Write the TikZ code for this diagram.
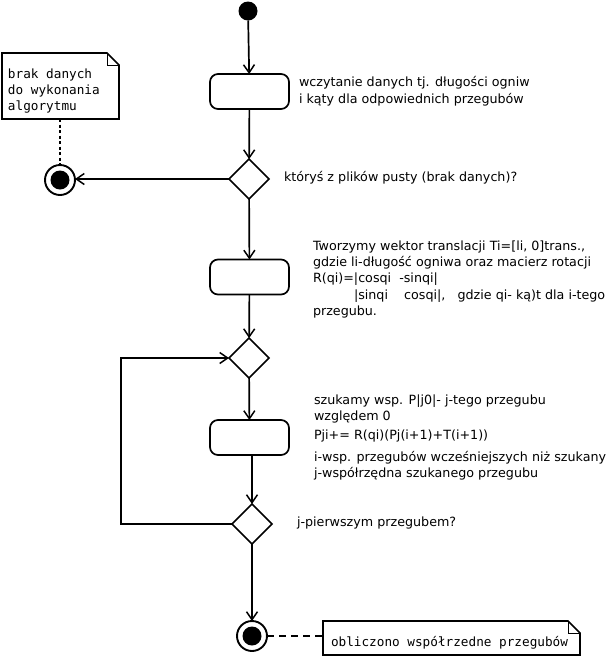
\documentclass[tikz,border=0pt]{standalone}
\usepackage{fontspec}
\setmainfont{DejaVu Sans}
\newfontfamily\notefont{DejaVu Sans Mono}
\usetikzlibrary{shapes.geometric,arrows.meta}
\begin{document}
\begin{tikzpicture}[x=1pt,y=-1pt,
  every node/.style={inner sep=0pt,outer sep=0pt},
  line/.style={line width=1.7pt},
  arr/.style={line width=1.7pt,-{Straight Barb[length=8pt,width=11pt,line width=1.5pt]}},
  actbox/.style={draw,line width=1.7pt,rounded corners=8pt,minimum width=79pt,minimum height=35pt},
  decision/.style={draw,diamond,line width=1.7pt,aspect=1,minimum width=40pt,minimum height=40pt},
  startnode/.style={circle,fill=black,minimum size=19pt},
  endnode/.style={circle,draw,line width=1.9pt,minimum size=30pt,
     path picture={\fill[black] (path picture bounding box.center) circle (9.5pt);}},
  notebox/.style={anchor=north west},
  notetext/.style={anchor=base west,font=\notefont\fontsize{12.7}{16.5}\selectfont},
  lbl/.style={anchor=base west,font=\fontsize{12.7}{14}\selectfont},
]
\useasboundingbox (0,0) rectangle (610,657);

% nodes
\node[startnode] (start) at (248,11) {};
\node[actbox] (b1) at (249.5,91.5) {};
\node[decision] (d1) at (249,179) {};
\node[endnode] (e1) at (60,180) {};
\node[actbox] (b2) at (249.5,277) {};
\node[decision] (d2) at (249,358) {};
\node[actbox] (b3) at (249.5,437.5) {};
\node[decision] (d3) at (252,524) {};
\node[endnode] (e2) at (252,636) {};
\coordinate (lp) at (121,524);

% notes
\node[notebox,minimum width=117pt,minimum height=66pt] (n1) at (2,53) {};
\draw[line] (n1.north west) -- ([xshift=-12pt]n1.north east) -- ([yshift=-12pt]n1.north east) -- (n1.south east) -- (n1.south west) -- cycle;
\draw[line width=0.8pt] ([xshift=-12pt]n1.north east) -- ([xshift=-12pt,yshift=-12pt]n1.north east) -- ([yshift=-12pt]n1.north east);
\node[notetext] (n1a) at (8,78) {brak danych};
\node[notetext] (n1b) at (8,94.3) {do wykonania};
\node[notetext] (n1c) at (8,110.6) {algorytmu};

\node[notebox,minimum width=257pt,minimum height=34pt] (n2) at (323,621) {};
\draw[line] (n2.north west) -- ([xshift=-12pt]n2.north east) -- ([yshift=-12pt]n2.north east) -- (n2.south east) -- (n2.south west) -- cycle;
\draw[line width=0.8pt] ([xshift=-12pt]n2.north east) -- ([xshift=-12pt,yshift=-12pt]n2.north east) -- ([yshift=-12pt]n2.north east);
\node[notetext] (n2a) at (331,646) {obliczono współrzedne przegubów};

% labels
\node[lbl] (t1a) at (299,86) {wczytanie danych tj. długości ogniw};
\node[lbl] (t1b) at (299,103) {i kąty dla odpowiednich przegubów};
\node[lbl] (t2) at (284,181) {któryś z plików pusty (brak danych)?};
\node[lbl] (t3a) at (313,250) {Tworzymy wektor translacji Ti=[li, 0]trans.,};
\node[lbl] (t3b) at (313,266) {gdzie li-długość ogniwa oraz macierz rotacji};
\node[lbl] (t3c) at (313,282) {R(qi)=|cosqi\ \ -sinqi|};
\node[lbl] (t3d) at (354,299) {|sinqi\ \ \ \ cosqi|,\ \ \ gdzie qi- ką)t dla i-tego};
\node[lbl] (t3e) at (313,315) {przegubu.};
\node[lbl] (t4a) at (314,404) {szukamy wsp. P|j0|- j-tego przegubu};
\node[lbl] (t4b) at (314,420) {względem 0};
\node[lbl] (t4c) at (314,439) {Pji+= R(qi)(Pj(i+1)+T(i+1))};
\node[lbl] (t4d) at (314,461) {i-wsp. przegubów wcześniejszych niż szukany};
\node[lbl] (t4e) at (314,477) {j-współrzędna szukanego przegubu};
\node[lbl] (t5) at (297,526) {j-pierwszym przegubem?};

% connectors
\draw[arr] (start) -- (b1);
\draw[arr] (b1) -- (d1);
\draw[arr] (d1.west) -- (e1.east |- d1.west);
\draw[line,dash pattern=on 3pt off 2.5pt] (n1.south -| e1) -- (e1);
\draw[arr] (d1) -- (b2);
\draw[arr] (b2) -- (d2);
\draw[arr] (d2) -- (b3);
\draw[arr] (b3.south -| d3) -- (d3.north);
\draw[arr] (d3.west) -- (lp) |- (d2.west);
\draw[arr] (d3) -- (e2);
\draw[line,dash pattern=on 7pt off 5pt] (e2) -- (n2.west |- e2);
\end{tikzpicture}
\end{document}
